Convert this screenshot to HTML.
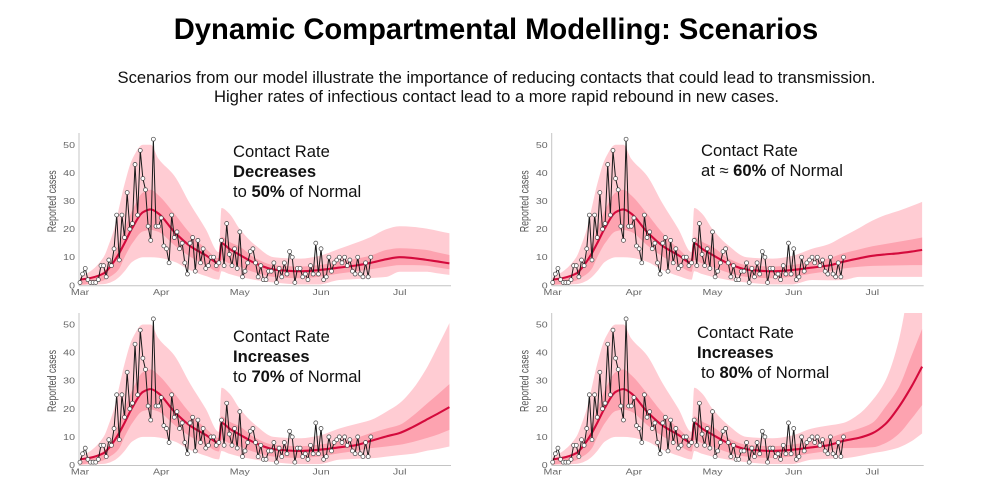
<!DOCTYPE html>
<html lang="en">
<head>
<meta charset="utf-8">
<title>Dynamic Compartmental Modelling: Scenarios</title>
<style>
html,body{margin:0;padding:0;background:#fff;}
body{width:991px;height:488px;overflow:hidden;position:relative;}
svg{display:block;font-family:"Liberation Sans",sans-serif;}
#charts{filter:blur(0.35px);}
</style>
</head>
<body>
<svg id="slide" width="991" height="488" viewBox="0 0 991 488" xmlns="http://www.w3.org/2000/svg">
  <rect width="991" height="488" fill="#fff"/>
  <text x="496" y="39" text-anchor="middle" font-size="29.150" font-weight="bold" fill="#000">Dynamic Compartmental Modelling: Scenarios</text>
  <text x="496.500" y="83" text-anchor="middle" font-size="16.630" fill="#111">Scenarios from our model illustrate the importance of reducing contacts that could lead to transmission.</text>
  <text x="496.500" y="102" text-anchor="middle" font-size="16.630" fill="#111">Higher rates of infectious contact lead to a more rapid rebound in new cases.</text>
  <g id="charts"></g>
  <g font-size="16.600" fill="#111">
    <text x="233" y="157">Contact Rate</text>
    <text x="233" y="177" font-weight="bold">Decreases</text>
    <text x="233" y="197">to <tspan font-weight="bold">50%</tspan> of Normal</text>
  </g>
  <g font-size="16.600" fill="#111">
    <text x="701" y="156">Contact Rate</text>
    <text x="701" y="176">at ≈ <tspan font-weight="bold">60%</tspan> of Normal</text>
  </g>
  <g font-size="16.600" fill="#111">
    <text x="233" y="342">Contact Rate</text>
    <text x="233" y="362" font-weight="bold">Increases</text>
    <text x="233" y="382">to <tspan font-weight="bold">70%</tspan> of Normal</text>
  </g>
  <g font-size="16.600" fill="#111">
    <text x="697" y="338">Contact Rate</text>
    <text x="697" y="358" font-weight="bold">Increases</text>
    <text x="701" y="378">to <tspan font-weight="bold">80%</tspan> of Normal</text>
  </g>
</svg>
<script>
// Reported daily cases, one value per day starting 1 March
const observed = [1,4,6,2,1,1,1,2,7,7,3,9,7,13,25,9,25,17,33,20,22,43,25,48,38,34,21,16,52,21,21,24,14,13,8,25,17,19,13,15,8,4,15,17,5,16,8,13,6,7,10,10,7,8,16,7,22,11,7,13,6,19,3,5,8,12,13,8,3,7,2,2,5,5,8,1,6,3,8,4,12,10,1,6,6,3,4,2,7,4,15,4,13,2,3,10,5,8,9,10,8,10,7,9,5,4,10,4,3,8,3,10];

// Days since 1 March at which the fitted history was read
const historyDays = [0,4,9,11,13,15,17,20,24,27,30,36,42,48,53,54,57,61,67,74,84,91,99];
const historyMedian = [2,2.6,4.2,6,8.5,11.5,15,20.5,26,27,25.5,19,14,10.7,8,15,13,10.8,7.8,5.6,5,5.4,6.3];
const historyOuterUpper = [3,5,10,14.5,20,28,36,45,50,50,45,39,29,20,11.8,27.5,25.5,20,14.2,10,9.5,10.4,13];
const historyOuterLower = [0,0.2,0.4,0.8,1.6,3,5,8.4,10,10,9.8,8.4,5.4,3.3,2,5,4,3,1.9,1,0.3,0.3,1.9];
const historyInnerUpper = [1.3,2.4,5,7,11,15,20,26.8,33,34,32,25.5,18.5,13,9.6,17.3,15.5,13.7,9.6,7.2,6.7,7.2,8.4];
const historyInnerLower = [0.2,0.6,1.7,2.8,4,6,10,15,19.2,19.7,19,14.3,10.2,7.2,4.8,9,7.8,6.6,4.5,3,2.5,3,4.2];

// Days since 1 March at which each projection was read
const projectionDays = [105,111,117,122,127,132,137,141];

const median50 = [7,8,9.3,10,9.7,9.1,8.4,7.8];
const outerUpper50 = [15,17.2,20,21,20.8,20.2,19.3,18.5];
const outerLower50 = [2.2,2.6,3,4.8,4.8,4.8,4.2,3.7];
const innerUpper50 = [9.4,10.6,12.6,13.2,13,12.6,11.6,10.8];
const innerLower50 = [4.9,5.7,6.6,7.2,7.2,7,6.3,5.7];

const median60 = [7,8.4,9.6,10.5,11,11.4,12,12.6];
const outerUpper60 = [14.5,17.4,20.4,23,25,26.5,28.2,29.7];
const outerLower60 = [1.8,1.9,3,3,3,3,3,3];
const innerUpper60 = [9.5,11.4,12.8,13.9,14.7,15.5,16.3,17];
const innerLower60 = [5,6,6.6,6.9,7,7.1,7.2,7.2];

const median70 = [7,8.6,10.2,11.4,13.5,16,18.5,20.6];
const outerUpper70 = [14.5,16,19,22,27,34,43,50.5];
const outerLower70 = [2.2,2.4,3,3.5,4,5,5.8,6.6];
const innerUpper70 = [9.5,11.4,13,14.3,17.5,21.5,25.5,28.8];
const innerLower70 = [5,6,6.6,7.2,8.2,9.5,11,12.5];

const median80 = [7,8.6,9.7,11.3,14.6,20.5,28,35];
const outerUpper80 = [14,15,18.2,23,30,44,70,95];
const outerLower80 = [2.2,2.4,3.2,4.2,5,6.2,8.5,11.2];
const innerUpper80 = [9.5,11.4,13,15,20.7,27.5,39,48.4];
const innerLower80 = [5,6,6.1,6.3,7.8,11,16.5,21.3];

// Axis labels
const yTicks = [0,10,20,30,40,50];
const monthLabels = ["Mar","Apr","May","Jun","Jul"];
const monthDays = [0,31,61,92,122];
const scenarioLabels = ["50","60","70","80"];

const SVGNS = "http://www.w3.org/2000/svg";
const PX_PER_DAY = 2.62;
const PX_PER_CASE = 2.81;
const LAST_DAY = 141.6;
const panelFrames = [
  {x0: 80, y0: 285.3, top: 133},
  {x0: 552.7, y0: 285.3, top: 133},
  {x0: 80, y0: 465, top: 313},
  {x0: 552.7, y0: 465, top: 313}
];
const panelSeries = [
  {median: median50, outerUpper: outerUpper50, outerLower: outerLower50, innerUpper: innerUpper50, innerLower: innerLower50},
  {median: median60, outerUpper: outerUpper60, outerLower: outerLower60, innerUpper: innerUpper60, innerLower: innerLower60},
  {median: median70, outerUpper: outerUpper70, outerLower: outerLower70, innerUpper: innerUpper70, innerLower: innerLower70},
  {median: median80, outerUpper: outerUpper80, outerLower: outerLower80, innerUpper: innerUpper80, innerLower: innerLower80}
];

function make(tag, attrs, parent) {
  const el = document.createElementNS(SVGNS, tag);
  for (const k in attrs) el.setAttribute(k, attrs[k]);
  parent.appendChild(el);
  return el;
}

// Monotone cubic path segments through the given points
function smoothSegments(pts) {
  const n = pts.length;
  const slopes = [];
  for (let i = 0; i < n - 1; i++) slopes.push((pts[i+1][1] - pts[i][1]) / (pts[i+1][0] - pts[i][0]));
  const tangents = [slopes[0]];
  for (let i = 1; i < n - 1; i++) {
    tangents.push(slopes[i-1] * slopes[i] <= 0 ? 0 : 2 * slopes[i-1] * slopes[i] / (slopes[i-1] + slopes[i]));
  }
  tangents.push(slopes[n-2]);
  let d = "";
  for (let i = 0; i < n - 1; i++) {
    const h = (pts[i+1][0] - pts[i][0]) / 3;
    d += "C" + (pts[i][0] + h).toFixed(2) + " " + (pts[i][1] + tangents[i] * h).toFixed(2) + " " +
         (pts[i+1][0] - h).toFixed(2) + " " + (pts[i+1][1] - tangents[i+1] * h).toFixed(2) + " " +
         pts[i+1][0].toFixed(2) + " " + pts[i+1][1].toFixed(2);
  }
  return d;
}

function curve(days, values, sx, sy) {
  const pts = days.map((d, i) => [sx(d), sy(values[i])]);
  return {start: pts[0], d: smoothSegments(pts)};
}

function bandPath(days, upper, lower, sx, sy) {
  const top = curve(days, upper, sx, sy);
  const revDays = days.slice().reverse();
  const bottom = curve(revDays, lower.slice().reverse(), sx, sy);
  return "M" + top.start[0].toFixed(2) + " " + top.start[1].toFixed(2) + top.d +
         "L" + bottom.start[0].toFixed(2) + " " + bottom.start[1].toFixed(2) + bottom.d + "Z";
}

const chartsRoot = document.getElementById("charts");

panelFrames.forEach(function (frame, p) {
  const label = scenarioLabels[p];
  const s = panelSeries[p];
  const sx = d => frame.x0 + d * PX_PER_DAY;
  const sy = v => frame.y0 - v * PX_PER_CASE;
  const xEnd = sx(LAST_DAY);

  const g = make("g", {}, chartsRoot);
  
  

  const clip = make("clipPath", {id: "clip-" + label}, g);
  make("rect", {x: frame.x0, y: frame.top, width: xEnd - frame.x0, height: frame.y0 - frame.top}, clip);

  const days = historyDays.concat(projectionDays);
  const outerUpper = historyOuterUpper.concat(s.outerUpper);
  const outerLower = historyOuterLower.concat(s.outerLower);
  const innerUpper = historyInnerUpper.concat(s.innerUpper);
  const innerLower = historyInnerLower.concat(s.innerLower);
  const median = historyMedian.concat(s.median);

  const marks = make("g", {"clip-path": "url(#clip-" + label + ")"}, g);
  
  

  const outer = make("path", {d: bandPath(days, outerUpper, outerLower, sx, sy), fill: "#ffccd3"}, marks);
  
  

  const inner = make("path", {d: bandPath(days, innerUpper, innerLower, sx, sy), fill: "#fda3b0"}, marks);
  
  

  const mid = curve(days, median, sx, sy);
  const medianLine = make("path", {d: "M" + mid.start[0].toFixed(2) + " " + mid.start[1].toFixed(2) + mid.d, fill: "none", stroke: "#d40a3c", "stroke-width": 2.1}, marks);
  
  

  // Axes
  const yAxis = make("line", {x1: frame.x0 - 1, x2: frame.x0 - 1, y1: frame.top, y2: frame.y0 + 0.5, stroke: "#c4c4c4", "stroke-width": 1}, g);
  
  

  const xAxis = make("line", {x1: frame.x0 - 1, x2: xEnd, y1: frame.y0 + 0.5, y2: frame.y0 + 0.5, stroke: "#c4c4c4", "stroke-width": 1}, g);
  
  

  yTicks.forEach(function (v) {
    const t = make("text", {"text-anchor": "end", "font-size": 8.5, fill: "#666", transform: "translate(" + (frame.x0 - 5) + " " + (sy(v) + 3) + ") scale(1.25 1)"}, g);
    t.textContent = v;
    
    
  });

  monthLabels.forEach(function (m, i) {
    const t = make("text", {"text-anchor": "middle", "font-size": 8.5, fill: "#666", transform: "translate(" + sx(monthDays[i]) + " " + (frame.y0 + 9.5) + ") scale(1.25 1)"}, g);
    t.textContent = m;
    
    
  });

  const cy = frame.y0 - 84;
  const title = make("text", {x: 0, y: 0, "text-anchor": "middle", "font-size": 11.5, fill: "#555", textLength: 62, lengthAdjust: "spacingAndGlyphs", transform: "translate(" + (frame.x0 - 24) + " " + cy + ") rotate(-90)"}, g);
  title.textContent = "Reported cases";
  
  

  // Observed series
  const obsPts = observed.map((v, d) => sx(d).toFixed(2) + "," + sy(v).toFixed(2)).join(" ");
  const obsLine = make("polyline", {points: obsPts, fill: "none", stroke: "#1a1a1a", "stroke-width": 1}, g);
  
  

  observed.forEach(function (v, d) {
    const c = make("circle", {cx: sx(d), cy: sy(v), r: 2, fill: "#fff", stroke: "#444", "stroke-width": 0.7}, g);
    
    
  });
});
</script>
</body>
</html>
